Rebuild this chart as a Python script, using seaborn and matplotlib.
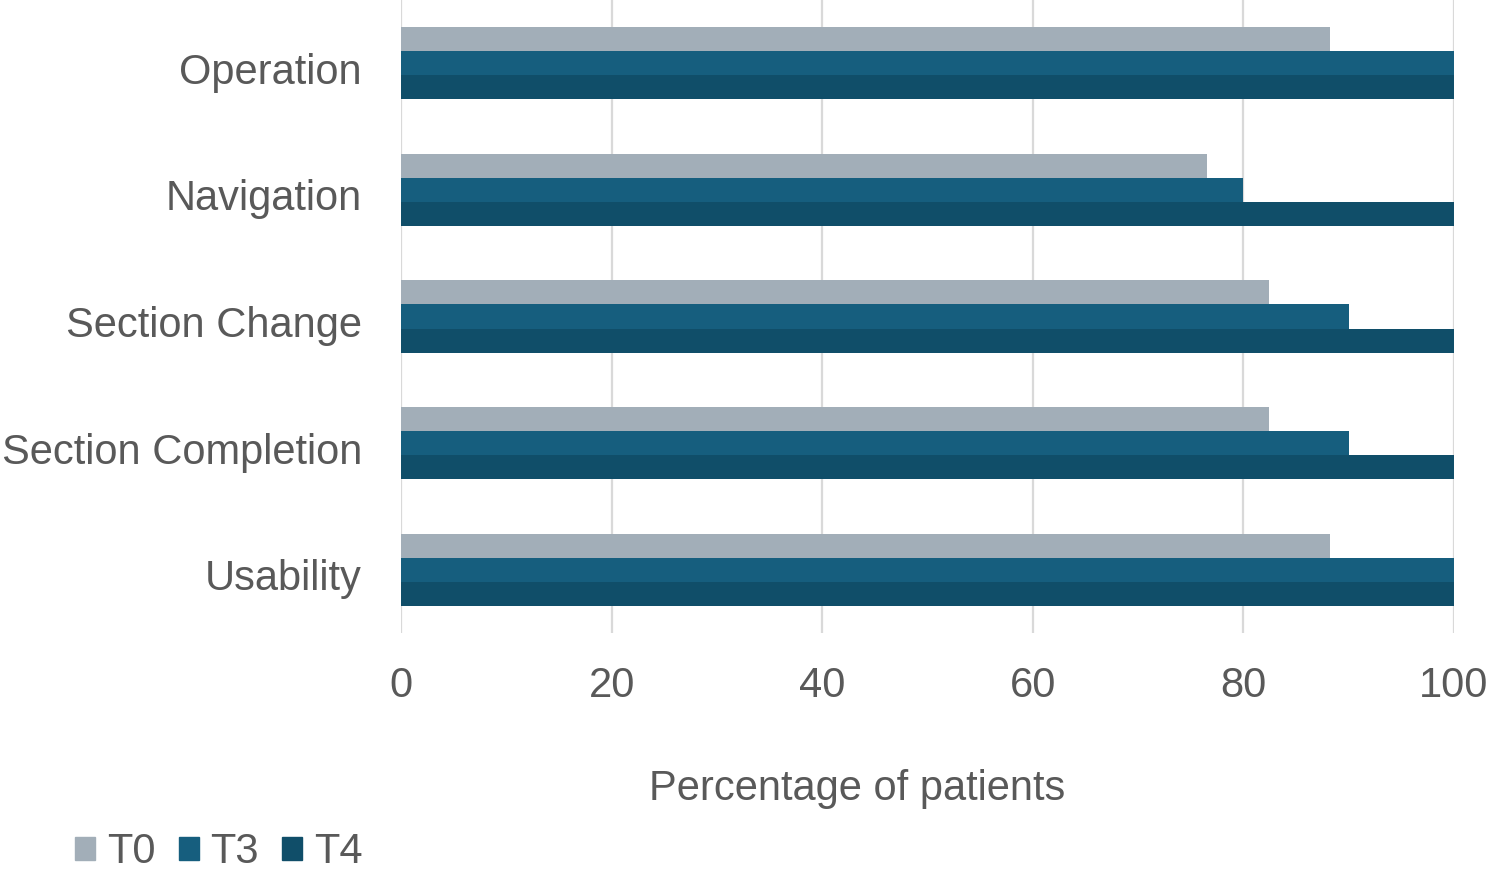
import matplotlib
matplotlib.use("Agg")
import matplotlib.pyplot as plt
import matplotlib.transforms as mtransforms
import seaborn as sns
import pandas as pd
from matplotlib.patches import Patch

# values
categories = ["Operation", "Navigation", "Section Change", "Section Completion", "Usability"]
time_points = ["T0", "T3", "T4"]
t0_values = [88.2, 76.5, 82.4, 82.4, 88.2]
t3_values = [100, 80, 90, 90, 100]
t4_values = [100, 100, 100, 100, 100]
x_ticks = [0, 20, 40, 60, 80, 100]

colors = ["#A2AEB8", "#165E7E", "#104E69"]
text_color = "#595959"

df = pd.DataFrame({
    "Category": categories * 3,
    "Time": ["T0"] * 5 + ["T3"] * 5 + ["T4"] * 5,
    "Value": t0_values + t3_values + t4_values,
})

sns.set_theme(style="white")
plt.rcParams["font.family"] = ["Liberation Sans", "DejaVu Sans"]

fig = plt.figure(figsize=(14.89, 8.74), dpi=100)
ax = fig.add_axes([0.2693, 0.2757, 0.7072, 0.7243])

sns.barplot(data=df, x="Value", y="Category", hue="Time", order=categories,
            hue_order=time_points, palette=colors, orient="h", width=0.57,
            saturation=1, linewidth=0, legend=False, ax=ax)

ax.set_xlim(0, 100)
ax.set_xticks(x_ticks)
ax.grid(axis="x", color="#D9D9D9", linewidth=1.6)
ax.set_axisbelow(True)
for s in ax.spines.values():
    s.set_visible(False)
ax.tick_params(axis="both", length=0, labelsize=30, colors=text_color)
ax.tick_params(axis="y", pad=28)
ax.tick_params(axis="x", pad=24)

# nudge the category labels a little lower, like the original
shift = mtransforms.ScaledTranslation(0, -5 / 100, fig.dpi_scale_trans)
for lbl in ax.get_yticklabels():
    lbl.set_transform(lbl.get_transform() + shift)

ax.set_ylabel("")
ax.set_xlabel("Percentage of patients", fontsize=30, color=text_color)
ax.xaxis.label.set_va("center")
ax.xaxis.set_label_coords(0.433, -0.246)

handles = [Patch(color=c, label=t) for c, t in zip(colors, time_points)]
fig.legend(handles=handles, loc="center left", bbox_to_anchor=(75 / 1489, 0.025), ncol=3,
           frameon=False, fontsize=30, labelcolor=text_color, borderpad=0,
           borderaxespad=0, handlelength=0.48, handleheight=0.48,
           handletextpad=0.29, columnspacing=0.55)

fig.savefig("out.png", dpi=100)
